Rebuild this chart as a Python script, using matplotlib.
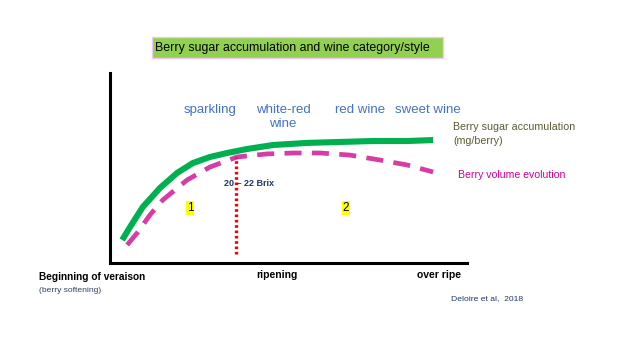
"""
Berry sugar accumulation and wine category/style - schematic chart
"""

import matplotlib
matplotlib.use('Agg')
import matplotlib.pyplot as plt
from matplotlib.patches import Rectangle

# Curves (x: 0-100 along ripening, y: 0-100 relative level)
sugar_x = [3.4, 5.6, 9.2, 14.0, 18.8, 23.2, 28.0, 32.8, 38.4, 45.7, 55.2, 64.4, 73.7, 83.2, 90.5]
sugar_y = [12.1, 18.9, 29.5, 39.5, 47.4, 52.6, 55.8, 57.9, 60.0, 62.1, 63.2, 63.7, 64.2, 64.2, 64.7]

volume_x = [4.8, 7.6, 11.2, 14.8, 21.6, 28.0, 35.6, 44.0, 51.3, 58.8, 67.2, 75.6, 83.2, 90.5]
volume_y = [9.5, 15.8, 25.3, 33.2, 43.7, 50.5, 55.8, 57.4, 57.9, 57.9, 56.8, 54.2, 51.6, 47.9]

brix_x = 35.3
brix_y = [4.5, 56]

wine_styles = ['sparkling', 'white-red\nwine', 'red wine', 'sweet wine']
style_x = [28, 48.5, 70, 89]

stage_labels = ['Beginning of veraison', 'ripening', 'over ripe']

fig = plt.figure(figsize=(6.4, 3.6), dpi=100)
W, H = 640.0, 360.0


def fx(px):
    return px / W


def fy(py):
    return 1 - py / H


ax = fig.add_axes([fx(110), fy(263), (467 - 110) / W, (263 - 73) / H])
ax.set_xlim(0, 100)
ax.set_ylim(0, 100)
for s in ['top', 'right']:
    ax.spines[s].set_visible(False)
for s in ['left', 'bottom']:
    ax.spines[s].set_linewidth(2.2)
    ax.spines[s].set_color('black')
ax.set_xticks([])
ax.set_yticks([])

ax.plot(sugar_x, sugar_y, color='#00B050', lw=4.4, solid_capstyle='butt',
        solid_joinstyle='round', zorder=3)
ax.plot(volume_x, volume_y, color='#D63BA6', lw=3.4, dashes=(3.6, 2.2), zorder=2)
ax.plot([brix_x, brix_x], brix_y, color='#FF0000', lw=2.4,
        linestyle=(0, (0.8, 0.8)), zorder=4)

# title box
fig.patches.append(Rectangle((fx(152), fy(58)), (443 - 152) / W, (58 - 37) / H,
                             transform=fig.transFigure, fc='#92D050', ec='#F2C8F2', lw=1))
fig.text(fx(155), fy(47.5), 'Berry sugar accumulation and wine category/style',
         ha='left', va='center', fontsize=8.9, family='Liberation Sans')

# wine styles
for lab, x in zip(wine_styles, style_x):
    ax.text(x, 83.5, lab, ha='center', va='top', fontsize=9.5, color='#4472C4',
            family='Liberation Sans', linespacing=1.15)

# curve labels
fig.text(fx(453), fy(127), 'Berry sugar accumulation', ha='left', va='center',
         fontsize=7.7, color='#5B5B33', family='Liberation Sans')
fig.text(fx(453), fy(141), '(mg/berry)', ha='left', va='center',
         fontsize=7.7, color='#5B5B33', family='Liberation Sans')
fig.text(fx(458), fy(175), 'Berry volume evolution', ha='left', va='center',
         fontsize=7.6, color='#CC0099', family='Liberation Sans')

fig.text(fx(249), fy(184), '20 \u2013 22 Brix', ha='center', va='center', fontsize=6.5,
         fontweight='bold', color='#1F3864', family='Liberation Sans')

for lab, px in [('1', 190), ('2', 346)]:
    fig.text(fx(px), fy(208), lab, ha='center', va='center', fontsize=8.5, color='black',
             family='Liberation Sans',
             bbox=dict(boxstyle='square,pad=0.1', fc='#FFFF00', ec='none'))

# stage labels along the bottom
fig.text(fx(39), fy(277), stage_labels[0], ha='left', va='center', fontsize=7.3,
         fontweight='bold', family='Liberation Sans')
fig.text(fx(39), fy(291), '(berry softening)', ha='left', va='center', fontsize=6.1,
         color='#33415C', family='Liberation Sans')
fig.text(fx(277), fy(275), stage_labels[1], ha='center', va='center', fontsize=7.5,
         fontweight='bold', family='Liberation Sans')
fig.text(fx(439), fy(275), stage_labels[2], ha='center', va='center', fontsize=7.5,
         fontweight='bold', family='Liberation Sans')
fig.text(fx(487), fy(299), 'Deloire et al,  2018', ha='center', va='center', fontsize=6.1,
         color='#1F3864', family='Liberation Sans')

plt.savefig('out.png', dpi=100)
plt.close()
